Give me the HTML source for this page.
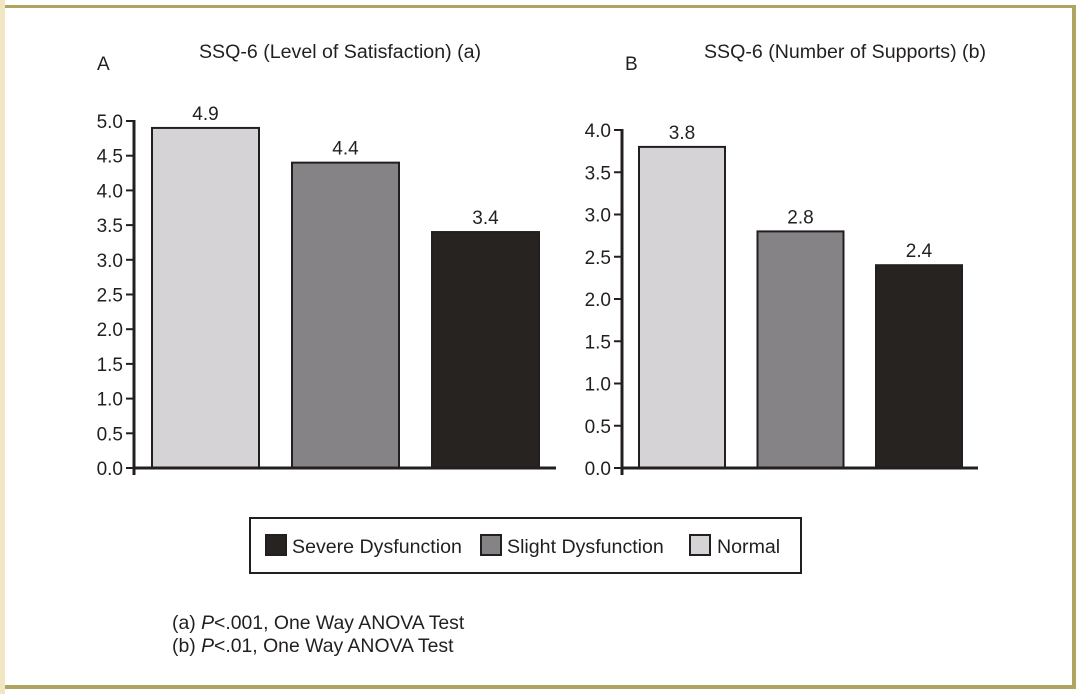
<!DOCTYPE html>
<html><head><meta charset="utf-8"><style>
body{margin:0;background:#fff;}
svg{display:block;font-family:"Liberation Sans",sans-serif;fill:#231f20;}
</style></head><body>
<svg id="s" width="1079" height="694" xmlns="http://www.w3.org/2000/svg">
<rect x="0" y="0" width="5" height="694" fill="#f0e6c4"/>
<rect x="5" y="5" width="1071" height="3" fill="#b0a560"/>
<rect x="1072" y="5" width="4" height="684" fill="#b0a560"/>
<rect x="5" y="685" width="1071" height="4" fill="#b0a560"/>
<text x="97" y="70" font-size="19">A</text>
<text x="625" y="70" font-size="19">B</text>
<text x="340" y="58" font-size="19.6" text-anchor="middle">SSQ-6 (Level of Satisfaction) (a)</text>
<text x="845" y="58" font-size="19.6" text-anchor="middle">SSQ-6 (Number of Supports) (b)</text>
<g id="ca"></g>
<g id="cb"></g>
<rect x="250" y="518" width="551" height="55" fill="#fff" stroke="#231f20" stroke-width="2"/>
<g><rect x="266" y="535" width="20" height="20" fill="#272320" stroke="#231f20" stroke-width="2"/><text x="292" y="553" font-size="19.6">Severe Dysfunction</text></g>
<g><rect x="481" y="535" width="20" height="20" fill="#858386" stroke="#231f20" stroke-width="2"/><text x="507" y="553" font-size="19.6">Slight Dysfunction</text></g>
<g><rect x="690" y="535" width="20" height="20" fill="#d5d3d6" stroke="#231f20" stroke-width="2"/><text x="717" y="553" font-size="19.6">Normal</text></g>
<text x="172" y="629" font-size="19.4">(a) <tspan font-style="italic">P</tspan>&lt;.001, One Way ANOVA Test</text>
<text x="172" y="652" font-size="19.4">(b) <tspan font-style="italic">P</tspan>&lt;.01, One Way ANOVA Test</text>
</svg>
<script>
const categories=["Normal","Slight Dysfunction","Severe Dysfunction"];
const valuesA=[4.9,4.4,3.4];
const valuesB=[3.8,2.8,2.4];
const ticksA=["0.0","0.5","1.0","1.5","2.0","2.5","3.0","3.5","4.0","4.5","5.0"];
const ticksB=["0.0","0.5","1.0","1.5","2.0","2.5","3.0","3.5","4.0"];
const colors=["#d5d3d6","#858386","#272320"];
const NS="http://www.w3.org/2000/svg";
function mk(p,t,a){const e=document.createElementNS(NS,t);for(const k in a)e.setAttribute(k,a[k]);p.appendChild(e);return e;}
function chart(g,vals,ticks,cfg){
  const max=parseFloat(ticks[ticks.length-1]);
  const y=v=>cfg.y0-(v/max)*(cfg.y0-cfg.yTop);
  const x=i=>cfg.bx0+i*cfg.step;
  ticks.forEach(t=>{const v=parseFloat(t);
    const l=mk(g,'line',{x1:cfg.ax-8,x2:cfg.ax,y1:y(v),y2:y(v),stroke:'#231f20','stroke-width':2});
    
    
    const tx=mk(g,'text',{x:cfg.ax-11,y:y(v)+7,'font-size':19,'text-anchor':'end'});tx.textContent=t;
    
    
  });
  vals.forEach((v,i)=>{
    const r=mk(g,'rect',{x:x(i),y:y(v),width:cfg.bw,height:cfg.y0-y(v),fill:colors[i],stroke:'#231f20','stroke-width':2});
    
    
    const tx=mk(g,'text',{x:x(i)+cfg.bw/2,y:y(v)-8,'font-size':19,'text-anchor':'middle'});tx.textContent=v.toFixed(1);
    
    
  });
  const ya=mk(g,'line',{x1:cfg.ax,x2:cfg.ax,y1:y(max)-1,y2:cfg.y0+7,stroke:'#231f20','stroke-width':3});
  
  
  const xa=mk(g,'line',{x1:cfg.ax,x2:cfg.xEnd,y1:cfg.y0,y2:cfg.y0,stroke:'#231f20','stroke-width':3});
  
  
}
chart(document.getElementById('ca'),valuesA,ticksA,{ax:134,y0:468,yTop:121,bx0:152,step:140,bw:107,xEnd:556});
chart(document.getElementById('cb'),valuesB,ticksB,{ax:622,y0:468,yTop:130,bx0:639,step:118.5,bw:86,xEnd:978});
</script>
</body></html>
